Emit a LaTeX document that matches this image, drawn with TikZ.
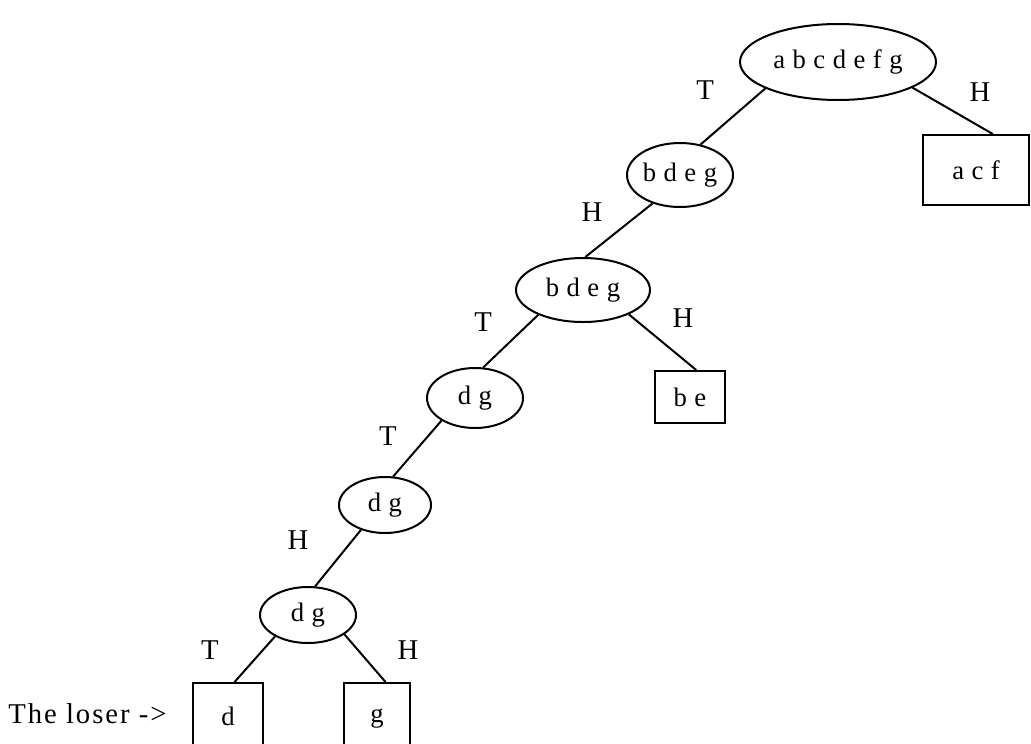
\documentclass[tikz,border=0pt]{standalone}
\usepackage{fontspec}
\setmainfont{Liberation Serif}
\newfontfamily\nodefont[LetterSpace=3]{Liberation Serif}
\newfontfamily\labfont[LetterSpace=7]{Liberation Serif}
\usetikzlibrary{shapes.geometric,calc}
\begin{document}
\begin{tikzpicture}[x=0.75pt,y=-0.75pt,
  every node/.style={inner sep=0pt},
  oval/.style={ellipse,draw,line width=1.5pt,font=\nodefont\fontsize{20}{22}\selectfont},
  leaf/.style={rectangle,draw,line width=1.5pt,font=\nodefont\fontsize{20}{22}\selectfont},
  lab/.style={font=\labfont\fontsize{21.5}{23}\selectfont},
  edge/.style={line width=1.5pt}]
\useasboundingbox (0,0) rectangle (1031,743);
\node[oval,minimum width=147pt,minimum height=57pt] (root) at (838,62) {a b c d e f g};
\node[leaf,minimum width=79.5pt,minimum height=52.5pt] (acf) at (976,170) {a c f};
\node[oval,minimum width=79.5pt,minimum height=48pt] (bdeg1) at (680,175) {b d e g};
\node[oval,minimum width=100.5pt,minimum height=48pt] (bdeg2) at (583,290) {b d e g};
\node[oval,minimum width=72pt,minimum height=45pt] (dg1) at (475,398) {d g};
\node[leaf,minimum width=52.5pt,minimum height=39pt] (be) at (690,397) {b e};
\node[oval,minimum width=69pt,minimum height=42pt] (dg2) at (385,505) {d g};
\node[oval,minimum width=72pt,minimum height=42pt] (dg3) at (308,615) {d g};
\node[leaf,minimum width=52.5pt,minimum height=54pt] (d) at (228,719) {\raisebox{4pt}{d}};
\node[leaf,minimum width=50pt,minimum height=54pt] (g) at (377,719) {\raisebox{4pt}{g}};
\node[lab,anchor=west] (loser) at (8,714) {The loser ->};
\draw[edge] (root.200) -- (bdeg1.56);
\draw[edge] (root.341) -- (acf.65);
\draw[edge] (bdeg1.226) -- (bdeg2.86);
\draw[edge] (bdeg2.209) -- (dg1.75);
\draw[edge] (bdeg2.332) -- (be.77);
\draw[edge] (dg1.214) -- (dg2.74);
\draw[edge] (dg2.226) -- (dg3.76);
\draw[edge] (dg3.213) -- (d.80);
\draw[edge] (dg3.332) -- (g.77);
\node[lab] (l1) at (705,90) {T};
\node[lab] (l2) at (980,92) {H};
\node[lab] (l3) at (592,212) {H};
\node[lab] (l4) at (483,322) {T};
\node[lab] (l5) at (683,318) {H};
\node[lab] (l6) at (388,436) {T};
\node[lab] (l7) at (298,540) {H};
\node[lab] (l8) at (210,650) {T};
\node[lab] (l9) at (408,650) {H};
\end{tikzpicture}
\end{document}
